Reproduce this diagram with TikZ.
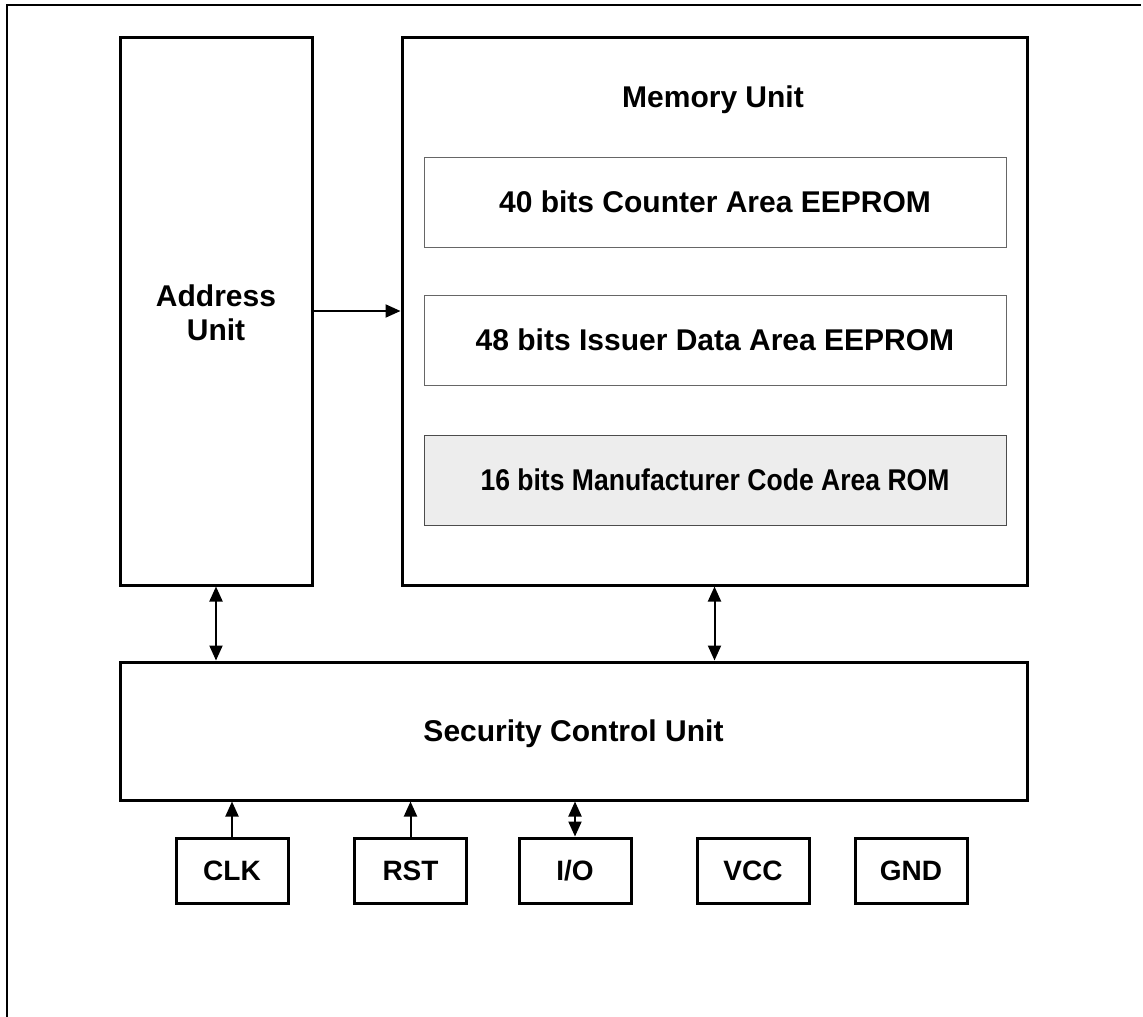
\documentclass[tikz,border=0pt]{standalone}
\usepackage{fontspec}
\setmainfont{Liberation Sans}
\usepackage{graphicx}
\usetikzlibrary{arrows.meta}
\newcommand{\fitw}[3]{\resizebox{#1pt}{\height}{\fontsize{#2}{#2}\selectfont\bfseries #3}}
\tikzset{
  lbl/.style={font=\fontsize{30}{33}\selectfont\bfseries, text height=21.5pt, text depth=0pt},
  bigbox/.style={draw=black, line width=3pt, inner sep=0pt, fill=white},
  membox/.style={draw=black!60, line width=1pt, inner sep=0pt, fill=white,
    minimum width=582pt, minimum height=90pt, lbl},
  pinbox/.style={draw=black, line width=3pt, inner sep=0pt, fill=white,
    minimum width=112pt, minimum height=65pt, font=\fontsize{28}{28}\selectfont\bfseries,
    text height=20pt, text depth=0pt},
  conn/.style={line width=2pt, -{Triangle[length=15pt,width=13pt]}},
  dconn/.style={line width=2pt, {Triangle[length=15pt,width=13pt]}-{Triangle[length=15pt,width=13pt]}},
  frame/.style={line width=1.5pt}
}
\begin{document}
\begin{tikzpicture}[x=1pt,y=-1pt]
\useasboundingbox (0,0) rectangle (1143,1017);
% outer frame (partly cropped)
\coordinate (ftl) at (7,5);
\coordinate (ftr) at (1141,5);
\coordinate (fbl) at (7,1017);
\draw[frame] (fbl) -- (ftl) -- (ftr);
% main blocks
\node[bigbox, minimum width=192pt, minimum height=548pt] (addr) at (216,311) {};
\node[lbl] (addrl1) at (216,296) {Address};
\node[lbl] (addrl2) at (216,330) {Unit};
\node[bigbox, minimum width=625pt, minimum height=548pt] (mem) at (714.5,311) {};
\node[lbl] (memlabel) at (713,97) {Memory Unit};
\node[membox] (cnt) at (715,202) {40 bits Counter Area EEPROM};
\node[membox] (iss) at (715,340) {48 bits Issuer Data Area EEPROM};
\node[membox, fill=black!7, draw=black!70] (rom) at (715,480) {\fitw{469}{30}{16 bits Manufacturer Code Area ROM}};
\node[bigbox, minimum width=907pt, minimum height=138pt, lbl] (scu) at (573.5,731) {Security Control Unit};
% pins
\node[pinbox] (clk) at (232,870.5) {CLK};
\node[pinbox] (rst) at (410.5,870.5) {RST};
\node[pinbox] (io) at (575,870.5) {I/O};
\node[pinbox] (vcc) at (753,870.5) {VCC};
\node[pinbox] (gnd) at (911,870.5) {GND};
% connectors
\draw[conn] (addr.east) -- (mem.west);
\draw[dconn] (addr.south) -- (addr.south |- scu.north);
\draw[dconn] (mem.south) -- (mem.south |- scu.north);
\draw[conn] (clk.north) -- (clk.north |- scu.south);
\draw[conn] (rst.north) -- (rst.north |- scu.south);
\draw[dconn] (io.north) -- (io.north |- scu.south);
\end{tikzpicture}
\end{document}
